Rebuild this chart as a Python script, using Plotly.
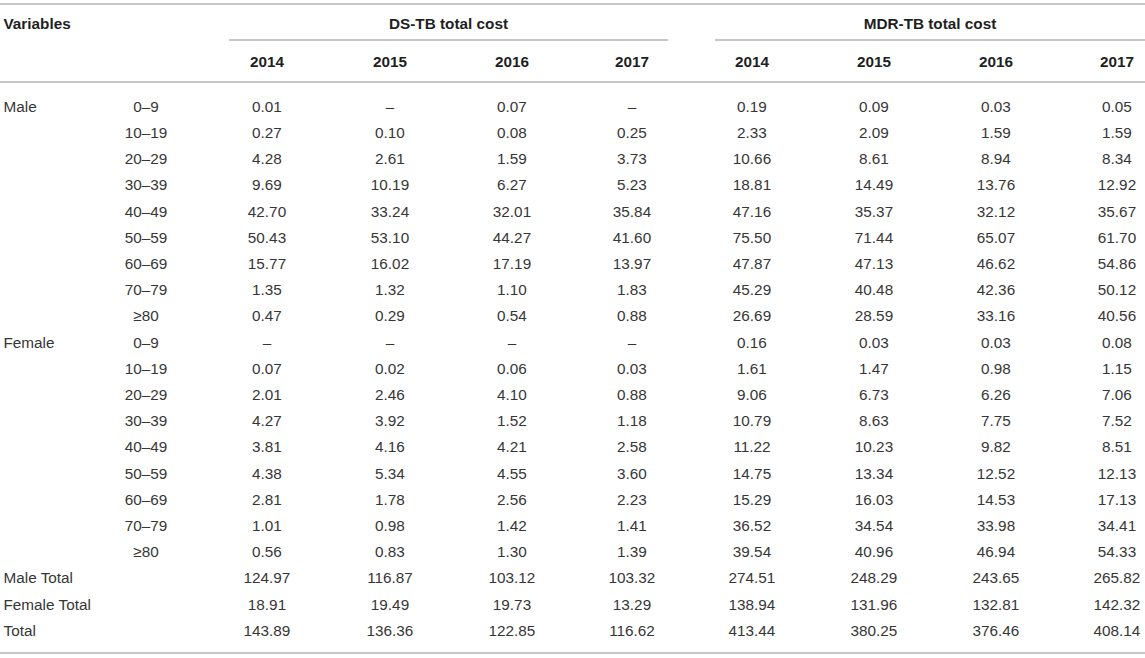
import plotly.graph_objects as go

# ---------------- data ----------------
sex_labels = ["Male", "", "", "", "", "", "", "", "",
              "Female", "", "", "", "", "", "", "", "",
              "Male Total", "Female Total", "Total"]
age_groups = ["0–9", "10–19", "20–29", "30–39", "40–49", "50–59", "60–69", "70–79", "≥80"]
age_labels = age_groups + age_groups + ["", "", ""]

years = ["2014", "2015", "2016", "2017"]
group_titles = ["DS-TB total cost", "MDR-TB total cost"]
header_variables = "Variables"

# None = "–" (no value)
ds_2014 = [0.01, 0.27, 4.28, 9.69, 42.70, 50.43, 15.77, 1.35, 0.47,
           None, 0.07, 2.01, 4.27, 3.81, 4.38, 2.81, 1.01, 0.56,
           124.97, 18.91, 143.89]
ds_2015 = [None, 0.10, 2.61, 10.19, 33.24, 53.10, 16.02, 1.32, 0.29,
           None, 0.02, 2.46, 3.92, 4.16, 5.34, 1.78, 0.98, 0.83,
           116.87, 19.49, 136.36]
ds_2016 = [0.07, 0.08, 1.59, 6.27, 32.01, 44.27, 17.19, 1.10, 0.54,
           None, 0.06, 4.10, 1.52, 4.21, 4.55, 2.56, 1.42, 1.30,
           103.12, 19.73, 122.85]
ds_2017 = [None, 0.25, 3.73, 5.23, 35.84, 41.60, 13.97, 1.83, 0.88,
           None, 0.03, 0.88, 1.18, 2.58, 3.60, 2.23, 1.41, 1.39,
           103.32, 13.29, 116.62]
mdr_2014 = [0.19, 2.33, 10.66, 18.81, 47.16, 75.50, 47.87, 45.29, 26.69,
            0.16, 1.61, 9.06, 10.79, 11.22, 14.75, 15.29, 36.52, 39.54,
            274.51, 138.94, 413.44]
mdr_2015 = [0.09, 2.09, 8.61, 14.49, 35.37, 71.44, 47.13, 40.48, 28.59,
            0.03, 1.47, 6.73, 8.63, 10.23, 13.34, 16.03, 34.54, 40.96,
            248.29, 131.96, 380.25]
mdr_2016 = [0.03, 1.59, 8.94, 13.76, 32.12, 65.07, 46.62, 42.36, 33.16,
            0.03, 0.98, 6.26, 7.75, 9.82, 12.52, 14.53, 33.98, 46.94,
            243.65, 132.81, 376.46]
mdr_2017 = [0.05, 1.59, 8.34, 12.92, 35.67, 61.70, 54.86, 50.12, 40.56,
            0.08, 1.15, 7.06, 7.52, 8.51, 12.13, 17.13, 34.41, 54.33,
            265.82, 142.32, 408.14]

ds_cols = [ds_2014, ds_2015, ds_2016, ds_2017]
mdr_cols = [mdr_2014, mdr_2015, mdr_2016, mdr_2017]

# ---------------- layout (pixel positions) ----------------
W, H = 1145, 658
ROW0, ROW_H = 108, 26.2
Y_TITLE, Y_YEARS = 25, 63
Y_TOP, Y_SUB, Y_HEAD, Y_BOT = 4, 40, 82, 653
X_LABEL = 3.5
X_AGE = 146
DS_X = [267, 390, 512, 632]
MDR_X = [752, 874, 996, 1117]
DS_SPAN = (229, 668)
MDR_SPAN = (715, 1145)

FONT = "Liberation Sans, Arial, Helvetica, sans-serif"
BODY = dict(family=FONT, size=15.3, color="#363636")
BOLD = dict(family=FONT, size=15.3, color="#1f1f1f", weight="bold")
LINE = "#b4b4b4"

n_rows = len(sex_labels)
row_y = [ROW0 + ROW_H * i for i in range(n_rows)]


def fmt(v):
    return "–" if v is None else f"{v:.2f}"


fig = go.Figure()

# row labels (left aligned)
fig.add_trace(go.Scatter(x=[X_LABEL] * n_rows, y=row_y, text=sex_labels, mode="text",
                         textposition="middle right", textfont=BODY, hoverinfo="skip"))
# age groups (centered)
fig.add_trace(go.Scatter(x=[X_AGE] * n_rows, y=row_y, text=age_labels, mode="text",
                         textposition="middle center", textfont=BODY, hoverinfo="skip"))
# value columns
for xs, cols in ((DS_X, ds_cols), (MDR_X, mdr_cols)):
    for x, col in zip(xs, cols):
        fig.add_trace(go.Scatter(x=[x] * n_rows, y=row_y, text=[fmt(v) for v in col],
                                 mode="text", textposition="middle center",
                                 textfont=BODY, hoverinfo="skip"))

# headers
fig.add_trace(go.Scatter(x=[X_LABEL], y=[Y_TITLE], text=[header_variables], mode="text",
                         textposition="middle right", textfont=BOLD, hoverinfo="skip"))
fig.add_trace(go.Scatter(x=[(DS_SPAN[0] + DS_SPAN[1]) / 2, (MDR_SPAN[0] + MDR_SPAN[1]) / 2],
                         y=[Y_TITLE, Y_TITLE], text=group_titles, mode="text",
                         textposition="middle center", textfont=BOLD, hoverinfo="skip"))
fig.add_trace(go.Scatter(x=DS_X + MDR_X, y=[Y_YEARS] * 8, text=years + years, mode="text",
                         textposition="middle center", textfont=BOLD, hoverinfo="skip"))

# rules
def hline(x0, x1, y, w=1.6):
    fig.add_shape(type="line", x0=x0, x1=x1, y0=y, y1=y, xref="x", yref="y",
                  line=dict(color=LINE, width=w))

hline(0, W, Y_TOP)
hline(DS_SPAN[0], DS_SPAN[1], Y_SUB, 1.3)
hline(MDR_SPAN[0], MDR_SPAN[1], Y_SUB, 1.3)
hline(0, W, Y_HEAD)
hline(0, W, Y_BOT)

fig.update_layout(
    width=W, height=H,
    margin=dict(l=0, r=0, t=0, b=0),
    paper_bgcolor="white", plot_bgcolor="white",
    showlegend=False,
    xaxis=dict(range=[0, W], visible=False, fixedrange=True),
    yaxis=dict(range=[H, 0], visible=False, fixedrange=True),
)

fig.write_html("out.html", config={"displayModeBar": False},
               post_script="document.body.style.margin='0';document.body.style.overflow='hidden';")
